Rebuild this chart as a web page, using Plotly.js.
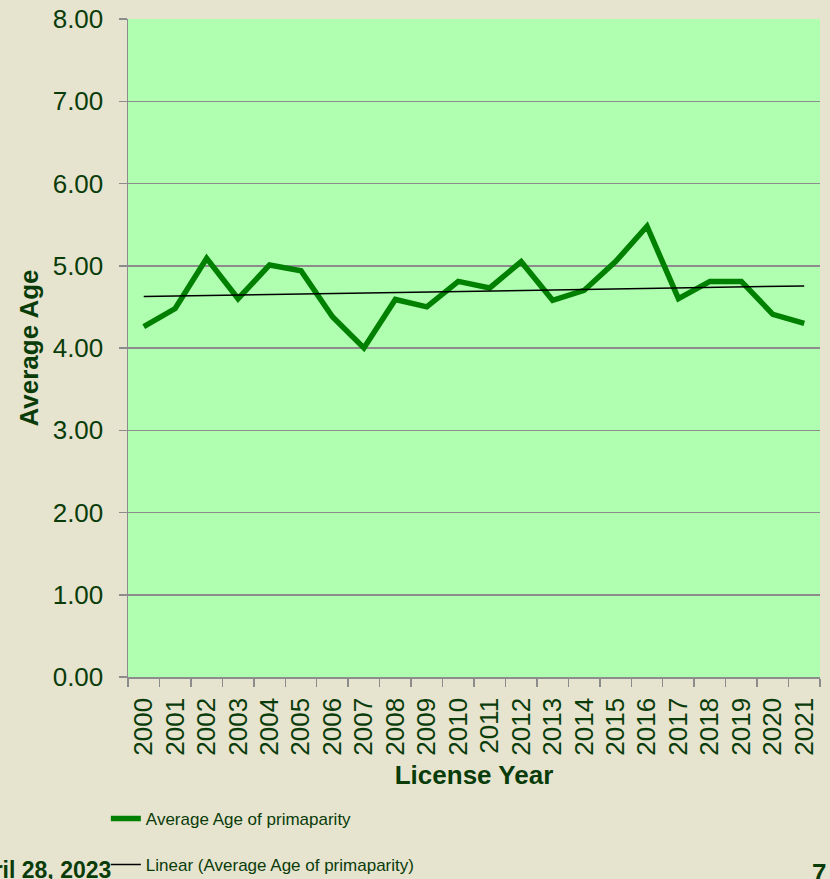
<!DOCTYPE html>
<html>
<head>
<meta charset="utf-8">
<script src="https://cdn.plot.ly/plotly-3.0.1.min.js"></script>
<style>
html,body{margin:0;padding:0;background:#E6E4CF;}
#chart{width:830px;height:879px;}
</style>
</head>
<body>
<div id="chart"></div>
<script>
const years = ["2000","2001","2002","2003","2004","2005","2006","2007","2008","2009","2010",
               "2011","2012","2013","2014","2015","2016","2017","2018","2019","2020","2021"];
const avgAge = [4.26,4.48,5.09,4.60,5.01,4.94,4.38,4.00,4.59,4.50,4.81,
                4.73,5.05,4.58,4.70,5.05,5.48,4.60,4.81,4.81,4.41,4.30];
const seriesName = "Average Age of primaparity";
const trendName = "Linear (Average Age of primaparity)";
const yTickVals = [0,1,2,3,4,5,6,7,8];

// least-squares linear trend over category index
const n = avgAge.length;
const idx = avgAge.map((_, i) => i + 1);
const mx = idx.reduce((a,b)=>a+b,0)/n;
const my = avgAge.reduce((a,b)=>a+b,0)/n;
let sxy=0, sxx=0;
for (let i=0;i<n;i++){ sxy += (idx[i]-mx)*(avgAge[i]-my); sxx += (idx[i]-mx)*(idx[i]-mx); }
const slope = sxy/sxx, intercept = my - slope*mx;
const trend = idx.map(x => intercept + slope*x);

const txt = "#0A3C0A";
const grid = "#8C8C8C";
const font = "Liberation Sans, Arial, sans-serif";

const data = [
  {x: years, y: avgAge, type: "scatter", mode: "lines", name: seriesName,
   line: {color: "#008000", width: 5.5}, legendgroup: "a"},
  {x: years, y: trend, type: "scatter", mode: "lines", name: trendName,
   line: {color: "#000000", width: 1.5}, legendgroup: "b"}
];

const layout = {
  width: 830, height: 879,
  paper_bgcolor: "#E6E4CF",
  plot_bgcolor: "#B0FFB0",
  margin: {l: 128, r: 10, t: 19, b: 202, autoexpand: false},
  font: {family: font, color: txt},
  showlegend: true,
  legend: {
    x: -0.032, xanchor: "left", y: -0.1884, yanchor: "top",
    orientation: "v", traceorder: "grouped", tracegroupgap: 21,
    bgcolor: "rgba(0,0,0,0)",
    font: {family: font, size: 17, color: txt}
  },
  xaxis: {
    type: "category",
    range: [-0.5, 21.5],
    tickangle: -90,
    tickson: "boundaries",
    ticks: "outside", ticklen: 8, tickcolor: grid, tickwidth: 1.5,
    ticklabelstandoff: 9,
    showline: true, linecolor: grid, linewidth: 1.5,
    showgrid: false,
    tickfont: {family: font, size: 26, color: txt},
    title: {text: "<b>License Year</b>", font: {family: font, size: 26, color: txt}, standoff: 11},
    automargin: false
  },
  yaxis: {
    range: [0, 8],
    tickvals: yTickVals,
    tickformat: ".2f",
    ticks: "outside", ticklen: 8, tickcolor: grid, tickwidth: 1.5,
    ticklabelstandoff: 10,
    showline: true, linecolor: grid, linewidth: 1.5,
    showgrid: true, gridcolor: grid, gridwidth: 1.5,
    zeroline: false,
    tickfont: {family: font, size: 26, color: txt},
    title: {text: "<b>Average Age</b>", font: {family: font, size: 26, color: txt}, standoff: 6},
    automargin: false
  },
  annotations: [
    {text: "<b>April 28, 2023</b>", xref: "paper", yref: "paper", x: -0.021, y: -0.293,
     xanchor: "right", yanchor: "middle", showarrow: false, font: {family: font, size: 23, color: txt}},
    {text: "<b>7</b>", xref: "paper", yref: "paper", x: 0.986, y: -0.298,
     xanchor: "left", yanchor: "middle", showarrow: false, font: {family: font, size: 26, color: txt}}
  ]
};

Plotly.newPlot("chart", data, layout, {displayModeBar: false, staticPlot: true});
</script>
</body>
</html>
